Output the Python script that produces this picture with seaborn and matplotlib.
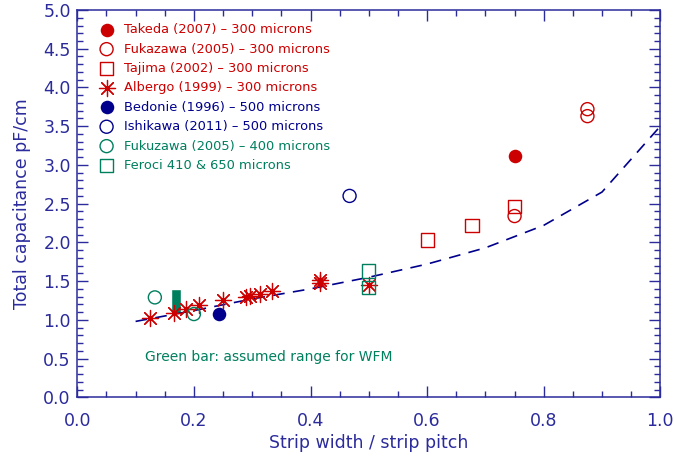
import matplotlib
matplotlib.use("Agg")
import matplotlib.pyplot as plt
from matplotlib.ticker import MultipleLocator
import seaborn as sns

RED = "#cc0000"
NAVY = "#00008c"
GREEN = "#007f5f"
AXIS = "#2b2b9c"

takeda_x = [0.75]
takeda_y = [3.12]

fukazawa300_x = [0.875, 0.875, 0.75]
fukazawa300_y = [3.72, 3.63, 2.34]

tajima_x = [0.60, 0.677, 0.75]
tajima_y = [2.03, 2.22, 2.46]

albergo_x = [0.125, 0.166, 0.187, 0.208, 0.25, 0.29, 0.297, 0.314, 0.334, 0.417, 0.417, 0.50]
albergo_y = [1.03, 1.09, 1.14, 1.19, 1.26, 1.29, 1.31, 1.34, 1.375, 1.47, 1.52, 1.45]

bedonie_x = [0.243]
bedonie_y = [1.07]

ishikawa_x = [0.467]
ishikawa_y = [2.60]

fukuzawa400_x = [0.133, 0.20]
fukuzawa400_y = [1.29, 1.075]

feroci_x = [0.50, 0.50]
feroci_y = [1.63, 1.415]

# model curve (dashed)
curve_x = [0.1, 0.2, 0.3, 0.4, 0.5, 0.6, 0.7, 0.8, 0.9, 1.0]
curve_y = [0.98, 1.12, 1.27, 1.40, 1.55, 1.72, 1.93, 2.22, 2.65, 3.50]

# assumed WFM range (green bar)
wfm_x = [0.169]
wfm_low = [1.08]
wfm_high = [1.40]

series = [
    ("Takeda (2007) – 300 microns", takeda_x, takeda_y, "o", RED, True),
    ("Fukazawa (2005) – 300 microns", fukazawa300_x, fukazawa300_y, "o", RED, False),
    ("Tajima (2002) – 300 microns", tajima_x, tajima_y, "s", RED, False),
    ("Albergo (1999) – 300 microns", albergo_x, albergo_y, (8, 2, 0), RED, None),
    ("Bedonie (1996) – 500 microns", bedonie_x, bedonie_y, "o", NAVY, True),
    ("Ishikawa (2011) – 500 microns", ishikawa_x, ishikawa_y, "o", NAVY, False),
    ("Fukuzawa (2005) – 400 microns", fukuzawa400_x, fukuzawa400_y, "o", GREEN, False),
    ("Feroci 410 & 650 microns", feroci_x, feroci_y, "s", GREEN, False),
]

sns.set_style("ticks")
plt.rcParams["font.family"] = ["DejaVu Sans"]

fig = plt.figure(figsize=(6.74, 4.57), dpi=100)
ax = fig.add_axes([0.1147, 0.1306, 0.8650, 0.8475])

ax.bar(wfm_x, [h - l for h, l in zip(wfm_high, wfm_low)], bottom=wfm_low,
       width=0.016, color=GREEN, zorder=1)

sns.lineplot(x=curve_x, y=curve_y, ax=ax, color=NAVY, linewidth=1.2,
             linestyle=(0, (7, 5)), zorder=2)

for label, xs, ys, marker, color, filled in series:
    if filled is None:
        sns.scatterplot(x=xs, y=ys, ax=ax, marker=marker, color=color, s=135,
                        linewidth=0.9, label=label, zorder=3)
    elif filled:
        sns.scatterplot(x=xs, y=ys, ax=ax, marker=marker, color=color, s=95,
                        linewidth=0, label=label, zorder=3)
    else:
        size = 88 if marker == "o" else 90
        sns.scatterplot(x=xs, y=ys, ax=ax, marker=marker, facecolors="none",
                        edgecolor=color, color=color, s=size, linewidth=1.0,
                        label=label, zorder=3)

ax.text(0.116, 0.52, "Green bar: assumed range for WFM", color=GREEN,
        fontsize=10, va="center", ha="left")

ax.set_xlim(0, 1)
ax.set_ylim(0, 5)
ax.xaxis.set_major_locator(MultipleLocator(0.2))
ax.xaxis.set_minor_locator(MultipleLocator(0.05))
ax.yaxis.set_major_locator(MultipleLocator(0.5))
ax.yaxis.set_minor_locator(MultipleLocator(0.1))
ax.xaxis.set_major_formatter(lambda v, p: f"{v:.1f}")
ax.yaxis.set_major_formatter(lambda v, p: f"{v:.1f}")

ax.tick_params(which="both", direction="in", top=True, right=True,
               colors=AXIS, width=1.0, labelsize=12.5)
ax.tick_params(which="major", length=8)
ax.tick_params(which="minor", length=4)
ax.tick_params(axis="x", which="major", pad=10.5)
ax.tick_params(axis="y", which="major", pad=4.7)
for sp in ax.spines.values():
    sp.set_color(AXIS)
    sp.set_linewidth(1.1)

ax.set_xlabel("Strip width / strip pitch", color=AXIS, fontsize=12.5, labelpad=3)
ax.set_ylabel("Total capacitance pF/cm", color=AXIS, fontsize=12.5, labelpad=9)

leg = ax.legend(loc="upper left", bbox_to_anchor=(0.039, 0.966), frameon=False,
                fontsize=9.4, borderpad=0, borderaxespad=0, handlelength=1.0,
                handletextpad=0.83, labelspacing=0.49)
for txt, (_, _, _, _, color, _) in zip(leg.get_texts(), series):
    txt.set_color(color)

fig.savefig("out.png", dpi=100)
